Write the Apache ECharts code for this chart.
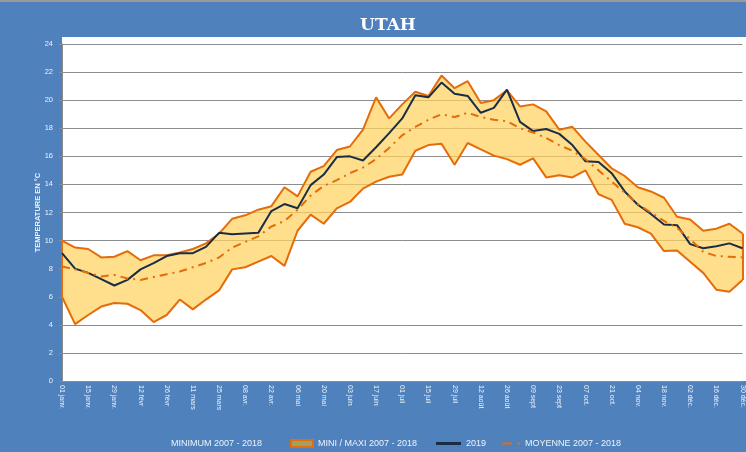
<!DOCTYPE html>
<html>
<head>
<meta charset="utf-8">
<script src="https://cdn.jsdelivr.net/npm/echarts@6/dist/echarts.min.js"></script>
<style>
  html, body { margin: 0; padding: 0; background: #4f81bd; }
  #chart { width: 746px; height: 452px; }
</style>
</head>
<body>
<div id="chart"></div>
<script>
// semaines (année de référence bissextile)
const categories = [
  '01 janv.', '08 janv.', '15 janv.', '22 janv.', '29 janv.', '05 févr', '12 févr', '19 févr', '26 févr',
  '04 mars', '11 mars', '18 mars', '25 mars', '01 avr.', '08 avr.', '15 avr.', '22 avr.', '29 avr.',
  '06 mai', '13 mai', '20 mai', '27 mai', '03 juin', '10 juin', '17 juin', '24 juin',
  '01 juil', '08 juil', '15 juil', '22 juil', '29 juil', '05 août', '12 août', '19 août', '26 août',
  '02 sept', '09 sept', '16 sept', '23 sept', '30 sept', '07 oct.', '14 oct.', '21 oct.', '28 oct.',
  '04 nov.', '11 nov.', '18 nov.', '25 nov.', '02 déc.', '09 déc.', '16 déc.', '23 déc.', '30 déc.'
]

const maxi = [
  10.0, 9.5, 9.4, 8.8, 8.85, 9.25, 8.6, 8.95, 8.95, 9.15, 9.4, 9.8, 10.5, 11.55, 11.8, 12.2, 12.45, 13.8,
  13.15, 14.9, 15.3, 16.45, 16.7, 17.9, 20.2, 18.7, 19.7, 20.6, 20.3, 21.75, 20.85, 21.35, 19.8, 20.0,
  20.7, 19.55, 19.7, 19.2, 17.9, 18.1, 17.05, 16.1, 15.15, 14.6, 13.8, 13.5, 13.05, 11.7, 11.5, 10.7,
  10.85, 11.2, 10.5
]

const mini = [
  6.0, 4.05, 4.7, 5.3, 5.55, 5.5, 5.05, 4.2, 4.7, 5.8, 5.1, 5.8, 6.45, 7.95, 8.1, 8.5, 8.9, 8.2,
  10.7, 11.85, 11.2, 12.3, 12.75, 13.7, 14.2, 14.55, 14.7, 16.4, 16.8, 16.9, 15.4, 16.95, 16.5, 16.05,
  15.8, 15.4, 15.85, 14.5, 14.65, 14.5, 15.0, 13.3, 12.9, 11.2, 10.95, 10.5, 9.25, 9.3, 8.5, 7.7,
  6.5, 6.35, 7.2
]

const annee2019 = [
  9.1, 8.0, 7.7, 7.25, 6.8, 7.2, 7.95, 8.4, 8.9, 9.1, 9.1, 9.55, 10.55, 10.45, 10.5, 10.55, 12.1, 12.6,
  12.3, 13.95, 14.7, 15.95, 16.0, 15.7, 16.65, 17.65, 18.7, 20.35, 20.2, 21.25, 20.45, 20.3, 19.1, 19.45,
  20.75, 18.45, 17.8, 17.95, 17.6, 16.8, 15.65, 15.6, 14.8, 13.5, 12.55, 11.9, 11.15, 11.1, 9.75, 9.45,
  9.6, 9.8, 9.45
]

const moyenne = [
  8.15, 7.95, 7.7, 7.45, 7.55, 7.3, 7.2, 7.4, 7.6, 7.8, 8.1, 8.4, 8.8, 9.5, 9.9, 10.3, 11.0, 11.4,
  12.2, 13.2, 13.9, 14.3, 14.8, 15.2, 15.8, 16.6, 17.5, 18.1, 18.6, 19.0, 18.8, 19.1, 18.8, 18.6,
  18.5, 18.0, 17.7, 17.3, 16.8, 16.4, 15.8, 15.0, 14.2, 13.4, 12.6, 12.0, 11.4, 10.9, 10.1, 9.2,
  8.9, 8.85, 8.8
]

const ORANGE = '#e46c0a'
const NAVY = '#1b2d45'
const LABEL = '#eef2f8'
const FONT = 'Liberation Sans'

const chart = echarts.init(document.getElementById('chart'), null, { renderer: 'canvas' })

// écart maxi - mini empilé sur le minimum
const ecart = maxi.map((v, i) => Math.round((v - mini[i]) * 100) / 100)
const last = categories.length - 1

function legendBox(item, left, width, height) {
  return {
    data: [item],
    left: left,
    top: 434,
    itemWidth: width,
    itemHeight: height,
    selectedMode: false,
    textStyle: { color: LABEL, fontSize: 9, fontFamily: FONT }
  }
}

const option = {
  backgroundColor: '#4f81bd',
  animation: false,
  title: {
    text: 'UTAH',
    left: 383,
    top: 12,
    textAlign: 'center',
    textStyle: { color: '#fff', fontSize: 17, fontWeight: 900, fontFamily: 'DejaVu Serif' }
  },
  graphic: [
    { type: 'rect', z: -10, shape: { x: 0, y: 0, width: 746, height: 2 }, style: { fill: '#9a9a9a' } },
    { type: 'rect', z: -10, shape: { x: 62, y: 37, width: 684, height: 344 }, style: { fill: '#fff' } }
  ],
  grid: { left: 62, right: 0, top: 44, bottom: 71 },
  legend: [
    legendBox({ name: 'MINIMUM 2007 - 2018', icon: 'rect', itemStyle: { opacity: 0 } }, 160, 1, 7),
    legendBox({ name: 'MINI / MAXI 2007 - 2018', icon: 'rect',
      itemStyle: { color: '#a29f62', borderColor: ORANGE, borderWidth: 2 } }, 285, 22, 7),
    legendBox({ name: '2019', icon: 'rect', itemStyle: { color: NAVY } }, 431, 25, 3),
    legendBox({ name: 'MOYENNE 2007 - 2018', icon: 'path://M0,0h10v2h-10z M15,0h3v2h-3z',
      itemStyle: { color: ORANGE } }, 497, 18, 2.5)
  ],
  xAxis: {
    type: 'category',
    data: categories,
    boundaryGap: false,
    axisLine: { lineStyle: { color: '#8c8c8c', width: 1 } },
    axisTick: { show: false },
    axisLabel: {
      interval: 1,
      rotate: -90,
      margin: 4,
      color: LABEL,
      fontSize: 7,
      fontFamily: FONT
    },
    splitLine: { show: false }
  },
  yAxis: {
    type: 'value',
    min: 0,
    max: 24,
    interval: 2,
    name: 'TEMPERATURE EN °C',
    nameLocation: 'middle',
    nameGap: 20,
    nameMoveOverlap: false,
    nameTextStyle: { color: LABEL, fontSize: 7.5, fontWeight: 'bold', fontFamily: FONT },
    axisLine: { show: true, lineStyle: { color: '#8c8c8c' } },
    axisTick: { show: true, length: 3, lineStyle: { color: '#8c8c8c' } },
    axisLabel: { color: LABEL, fontSize: 7.5, fontFamily: FONT, margin: 9 },
    splitLine: {
      lineStyle: {
        color: ['#8c8c8c', '#8c8c8c', '#8c8c8c', 'transparent', 'transparent', '#8c8c8c', '#8c8c8c',
          '#8c8c8c', '#8c8c8c', '#8c8c8c', '#8c8c8c', '#8c8c8c', '#8c8c8c'],
        width: 1
      }
    }
  },
  series: [
    {
      name: 'MINIMUM 2007 - 2018',
      type: 'line',
      stack: 'band',
      data: mini,
      symbol: 'none',
      z: 4,
      color: ORANGE,
      lineStyle: { color: ORANGE, width: 2 }
    },
    {
      name: 'MINI / MAXI 2007 - 2018',
      type: 'line',
      stack: 'band',
      data: ecart,
      symbol: 'none',
      z: 3,
      color: ORANGE,
      lineStyle: { color: ORANGE, width: 2 },
      areaStyle: { color: 'rgba(255, 210, 95, 0.72)', opacity: 1 },
      // bords verticaux de la bande
      markLine: {
        silent: true,
        symbol: 'none',
        label: { show: false },
        lineStyle: { color: ORANGE, width: 2, type: 'solid' },
        data: [
          [{ coord: [0, mini[0]] }, { coord: [0, maxi[0]] }],
          [{ coord: [last, mini[last]] }, { coord: [last, maxi[last]] }]
        ]
      }
    },
    {
      name: '2019',
      type: 'line',
      data: annee2019,
      symbol: 'none',
      z: 5,
      color: NAVY,
      lineStyle: { color: NAVY, width: 2 }
    },
    {
      name: 'MOYENNE 2007 - 2018',
      type: 'line',
      data: moyenne,
      symbol: 'none',
      z: 6,
      color: ORANGE,
      lineStyle: { color: ORANGE, width: 2, type: [8, 5, 2, 5] }
    }
  ]
}

chart.setOption(option)
</script>
</body>
</html>
